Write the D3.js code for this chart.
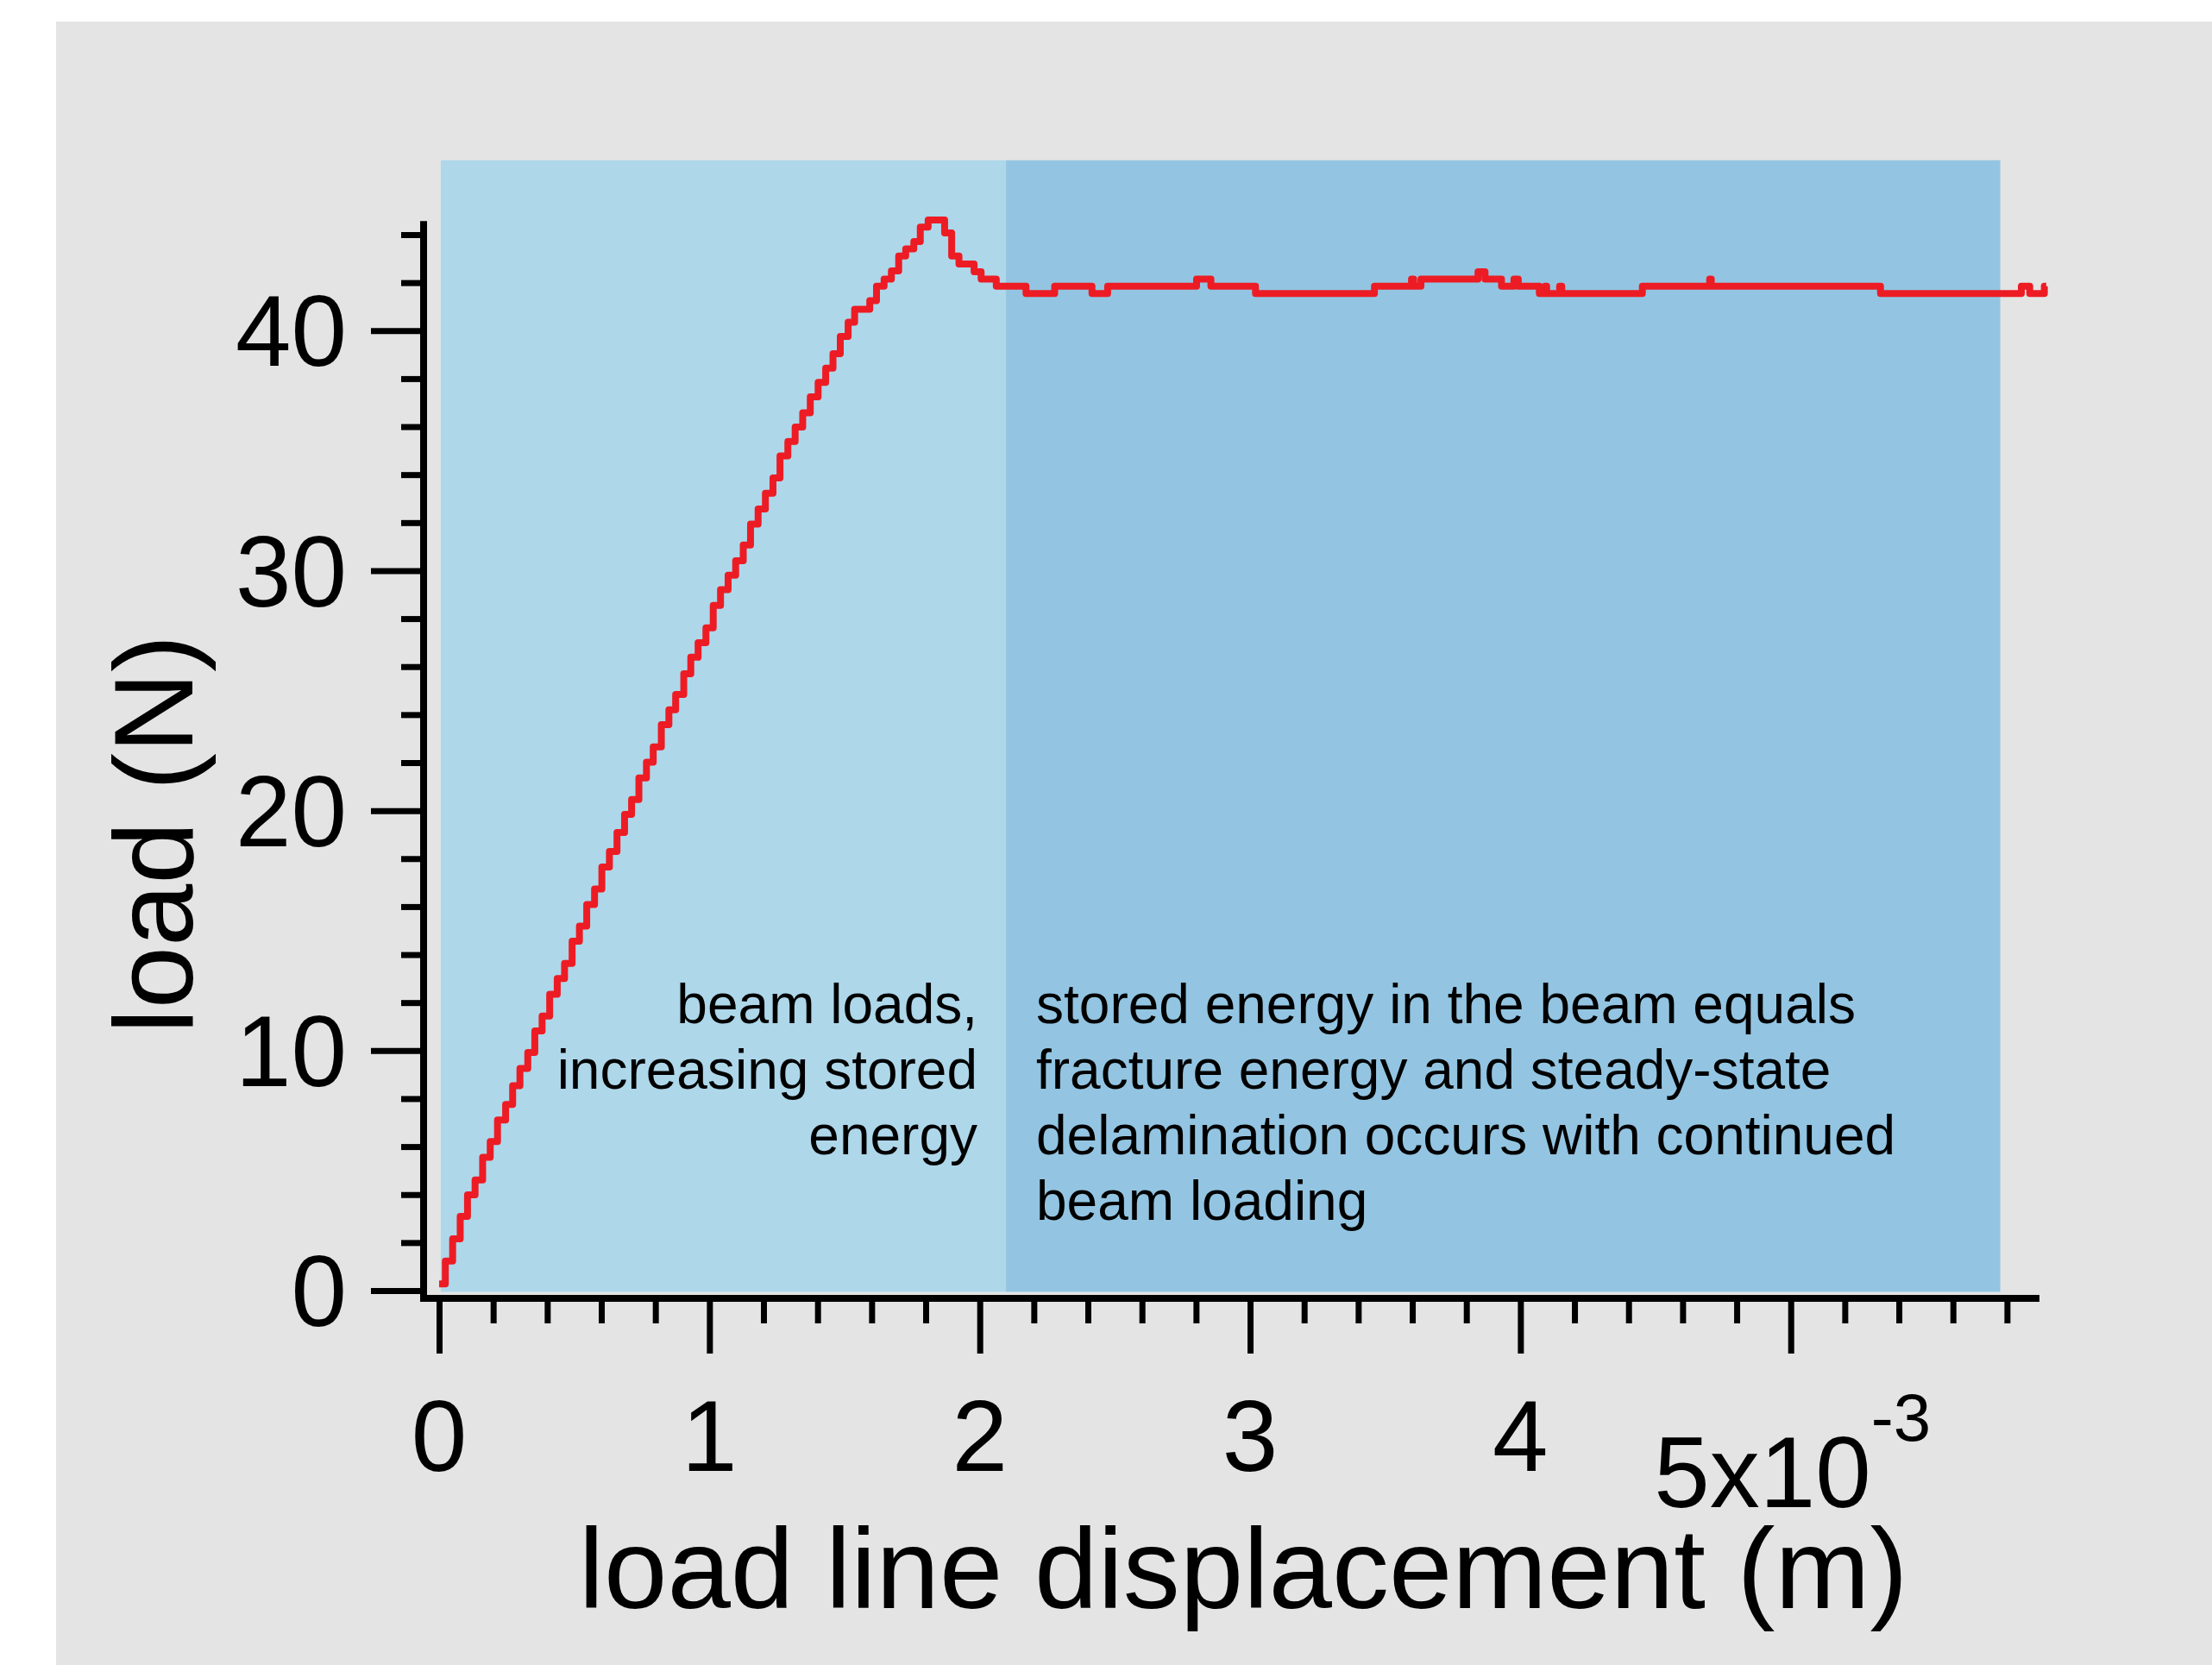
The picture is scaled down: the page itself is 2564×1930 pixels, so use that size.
<!DOCTYPE html>
<html>
<head>
<meta charset="utf-8">
<script src="https://cdn.jsdelivr.net/npm/d3@7/dist/d3.min.js"></script>
<style>
  html, body { margin: 0; padding: 0; background: #ffffff; }
  svg { display: block; }
  text { font-family: "Liberation Sans", Arial, Helvetica, sans-serif; fill: #000; }
</style>
</head>
<body>
<svg id="chart" width="2564" height="1930"></svg>
<script>
// ---------------- data ----------------
// load line displacement (x 1e-3 m)
const displacement = [
  0.000, 0.023, 0.050, 0.078, 0.105, 0.133, 0.161, 0.189, 0.216, 0.246,
  0.272, 0.299, 0.328, 0.354, 0.381, 0.409, 0.437, 0.464, 0.492, 0.519,
  0.546, 0.575, 0.602, 0.630, 0.658, 0.686, 0.712, 0.739, 0.767, 0.792,
  0.822, 0.850, 0.875, 0.905, 0.931, 0.958, 0.987, 1.014, 1.041, 1.069,
  1.097, 1.125, 1.152, 1.180, 1.207, 1.235, 1.261, 1.290, 1.317, 1.345,
  1.373, 1.402, 1.430, 1.457, 1.484, 1.513, 1.537, 1.593, 1.618, 1.646,
  1.673, 1.700, 1.726, 1.756, 1.780, 1.809, 1.870, 1.896, 1.923, 1.979,
  2.005, 2.061, 2.171, 2.277, 2.415, 2.473, 2.802, 2.855, 3.020, 3.460,
  3.597, 3.605, 3.632, 3.843, 3.869, 3.930, 3.976, 3.992, 4.070, 4.091,
  4.097, 4.145, 4.153, 4.451, 4.700, 4.706, 5.332, 5.853, 5.884, 5.938,
  5.945
];
// load (N)
const load = [
  0.28, 1.23, 2.16, 3.09, 3.99, 4.61, 5.55, 6.21, 7.11, 7.76,
  8.54, 9.26, 9.92, 10.82, 11.44, 12.35, 13.00, 13.63, 14.56, 15.19,
  16.09, 16.73, 17.65, 18.30, 19.09, 19.84, 20.46, 21.36, 22.02, 22.66,
  23.58, 24.20, 24.84, 25.70, 26.39, 27.00, 27.62, 28.55, 29.21, 29.81,
  30.41, 31.07, 31.94, 32.57, 33.22, 33.86, 34.78, 35.38, 35.98, 36.58,
  37.24, 37.84, 38.44, 39.04, 39.76, 40.35, 40.89, 41.25, 41.85, 42.15,
  42.49, 43.11, 43.41, 43.71, 44.31, 44.61, 44.07, 43.11, 42.78, 42.45,
  42.15, 41.85, 41.55, 41.85, 41.55, 41.85, 42.15, 41.85, 41.55, 41.85,
  42.15, 41.85, 42.15, 42.45, 42.15, 41.85, 42.15, 41.85, 41.55, 41.85,
  41.55, 41.85, 41.55, 41.85, 42.15, 41.85, 41.55, 41.85, 41.55, 41.85,
  41.85
];
// shaded regimes [start, end] in displacement units, top in N
const regionNames = ["loading", "steady-state"];
const regionStart = [0.006, 2.097];
const regionEnd   = [2.097, 5.775];
const regionTop   = 47.1;

const xDomain = [0, 5.92];
const yDomain = [0, 44.6];
const xMajorTicks = [0, 1, 2, 3, 4, 5];
const xTickLabels = ["0", "1", "2", "3", "4", ""];
const xMinorTicks = [0.2,0.4,0.6,0.8,1.2,1.4,1.6,1.8,2.2,2.4,2.6,2.8,3.2,3.4,3.6,3.8,4.2,4.4,4.6,4.8,5.2,5.4,5.6,5.8];
const yMajorTicks = [0, 10, 20, 30, 40];
const yTickLabels = ["0", "10", "20", "30", "40"];
const yMinorTicks = [2,4,6,8,12,14,16,18,22,24,26,28,32,34,36,38,42,44];
const xExponentBase = "5x10";
const xExponent = "-3";
const xTitle = "load line displacement (m)";
const yTitle = "load (N)";
const noteLeft = ["beam loads,", "increasing stored", "energy"];
const noteRight = ["stored energy in the beam equals", "fracture energy and steady-state", "delamination occurs with continued", "beam loading"];

// ---------------- layout ----------------
const svg = d3.select("#chart");
const colors = { bg: "#e4e4e4", light: "#aed7ea", dark: "#93c5e2", line: "#ed1c24" };

const x = d3.scaleLinear().domain(xDomain).range([509, 2364]);
const y = d3.scaleLinear().domain(yDomain).range([1496, 255.3]);
const yAxisX = 491;
const xAxisY = 1505;

// background
svg.append("rect").attr("x", 65).attr("y", 25).attr("width", 2564 - 65).attr("height", 1930 - 25).attr("fill", colors.bg);

// shaded regions
svg.selectAll("rect.region").data(regionNames).enter().append("rect")
  .attr("class", "region")
  .attr("x", (d, i) => x(regionStart[i]))
  .attr("width", (d, i) => x(regionEnd[i]) - x(regionStart[i]))
  .attr("y", y(regionTop))
  .attr("height", y(0) + 1.5 - y(regionTop))
  .attr("fill", (d, i) => i === 0 ? colors.light : colors.dark);

// data line
const pts = displacement.map((d, i) => [d, load[i]]);
const line = d3.line().x(d => x(d[0])).y(d => y(d[1])).curve(d3.curveStepAfter);
svg.append("path").datum(pts)
  .attr("d", line)
  .attr("fill", "none")
  .attr("stroke", colors.line)
  .attr("stroke-width", 8)
  .attr("stroke-linejoin", "round")
  .attr("stroke-linecap", "butt");

// axes
function styleAxis(g) {
  g.select(".domain").remove();
  g.selectAll(".tick line").attr("stroke", "#000").attr("stroke-width", 7);
  g.selectAll(".tick text").remove();
}
const xMajorG = svg.append("g").attr("transform", `translate(0,${xAxisY})`)
  .call(d3.axisBottom(x).tickValues(xMajorTicks).tickSize(64).tickSizeOuter(0).tickFormat(""));
styleAxis(xMajorG);
const xMinorG = svg.append("g").attr("transform", `translate(0,${xAxisY})`)
  .call(d3.axisBottom(x).tickValues(xMinorTicks).tickSize(29).tickSizeOuter(0).tickFormat(""));
styleAxis(xMinorG);
const yMajorG = svg.append("g").attr("transform", `translate(${yAxisX},0)`)
  .call(d3.axisLeft(y).tickValues(yMajorTicks).tickSize(61).tickSizeOuter(0).tickFormat(""));
styleAxis(yMajorG);
const yMinorG = svg.append("g").attr("transform", `translate(${yAxisX},0)`)
  .call(d3.axisLeft(y).tickValues(yMinorTicks).tickSize(26).tickSizeOuter(0).tickFormat(""));
styleAxis(yMinorG);

// axis lines
svg.append("line").attr("x1", yAxisX - 4).attr("x2", x(xDomain[1])).attr("y1", xAxisY).attr("y2", xAxisY)
  .attr("stroke", "#000").attr("stroke-width", 8);
svg.append("line").attr("x1", yAxisX).attr("x2", yAxisX).attr("y1", xAxisY + 4).attr("y2", y(yDomain[1]) + 1)
  .attr("stroke", "#000").attr("stroke-width", 8);

// tick labels
const tickFs = 116;
svg.selectAll("text.ylab").data(yMajorTicks).enter().append("text")
  .attr("class", "ylab")
  .attr("x", 402)
  .attr("y", d => y(d) + 0.355 * tickFs)
  .attr("text-anchor", "end")
  .attr("font-size", tickFs)
  .text((d, i) => yTickLabels[i]);
svg.selectAll("text.xlab").data(xMajorTicks).enter().append("text")
  .attr("class", "xlab")
  .attr("x", d => x(d))
  .attr("y", 1705)
  .attr("text-anchor", "middle")
  .attr("font-size", tickFs)
  .text((d, i) => xTickLabels[i]);
const expText = svg.append("text")
  .attr("x", x(5) + 2).attr("y", 1747)
  .attr("text-anchor", "middle")
  .attr("font-size", tickFs);
expText.append("tspan").text(xExponentBase);
expText.append("tspan").attr("font-size", 78).attr("dy", -77).text(xExponent);

// axis titles
svg.append("text").attr("x", 1441).attr("y", 1864).attr("text-anchor", "middle")
  .attr("font-size", 132).text(xTitle);
svg.append("text").attr("transform", "translate(223,967) rotate(-90)").attr("text-anchor", "middle")
  .attr("font-size", 130).text(yTitle);

// annotations
const noteFs = 64, noteLh = 76, noteY0 = 1186;
svg.selectAll("text.nl").data(noteLeft).enter().append("text")
  .attr("class", "nl")
  .attr("x", 1133).attr("y", (d, i) => noteY0 + i * noteLh)
  .attr("text-anchor", "end").attr("font-size", noteFs).text(d => d);
svg.selectAll("text.nr").data(noteRight).enter().append("text")
  .attr("class", "nr")
  .attr("x", 1201).attr("y", (d, i) => noteY0 + i * noteLh)
  .attr("text-anchor", "start").attr("font-size", noteFs).text(d => d);
</script>
</body>
</html>
